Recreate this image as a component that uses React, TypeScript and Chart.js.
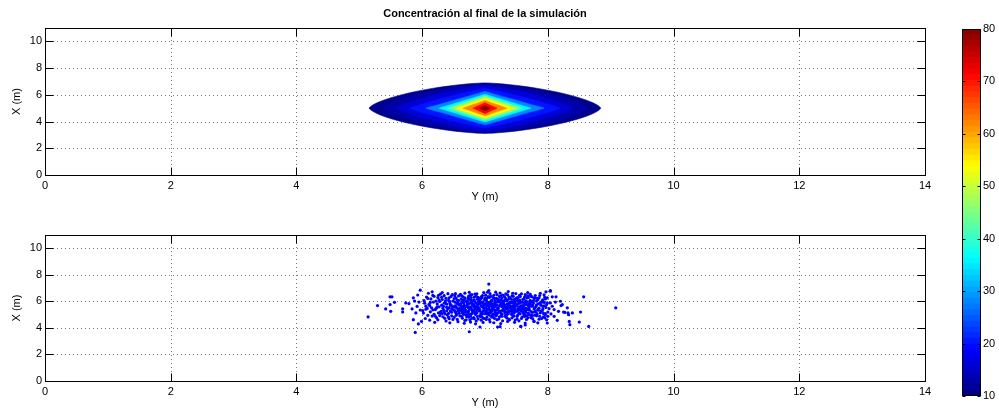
import React, { useEffect, useRef } from "react";
import { Chart, registerables } from "chart.js";

Chart.register(...registerables);

const FONT = '"Liberation Sans", Arial, Helvetica, sans-serif';

const TITLE = "Concentración al final de la simulación";
const X_LABEL = "Y (m)";
const Y_LABEL = "X (m)";

const X_MIN = 0;
const X_MAX = 14;
const Y_MIN = 0;
const Y_MAX = 11;
const xTicks = [0, 2, 4, 6, 8, 10, 12, 14];
const yTicks = [0, 2, 4, 6, 8, 10];

// Filled contours (outer -> inner): level value, half-extent along Y (m) and X (m), edge roundness
const plumeCenter = [7.0, 5.0];
const contourLevels = [11, 13, 16, 20, 28, 36, 45, 54, 62, 71, 79];
const contourHalfWidth = [1.84, 1.62, 1.4, 1.2, 0.94, 0.73, 0.59, 0.48, 0.35, 0.19, 0.08];
const contourHalfHeight = [1.89, 1.8, 1.69, 1.49, 1.25, 1.04, 0.9, 0.75, 0.57, 0.4, 0.2];
const contourRoundness = [1.5, 1.4, 1.25, 1.1, 1, 1, 1, 1, 1, 1, 1];

// Colour bar
const colorbarMin = 10;
const colorbarMax = 80;
const colorbarSteps = 64;
const colorbarTicks = [10, 20, 30, 40, 50, 60, 70, 80];

// Particle positions [Y (m), X (m)]
const particles: [number, number][] = [
  [5.14,4.83],[5.29,5.68],[5.42,5.43],[5.49,6.34],[5.52,6.34],[5.49,5.76],[5.5,5.25],[5.56,5.93],[5.69,5.43],[5.69,5.2],
  [5.74,5.88],[5.79,5.83],[5.84,5.43],[5.86,6.27],[5.86,4.62],[5.89,3.66],[5.9,5.13],[5.94,4.3],[5.97,6.84],[5.99,4.49],
  [5.92,5.62],[5.95,5.95],[5.97,5.35],[5.93,6.48],[5.88,6.02],
  [6.02,5.12],[6.04,5.86],[6.05,4.71],[6.07,6.33],[6.08,5.47],[6.03,6.05],[6.09,4.95],[6.06,5.64],[6.1,6.61],[6.01,5.3],
  [6.11,5.78],[6.12,4.58],[6.14,6.18],[6.13,5.21],[6.15,5.52],[6.16,4.89],[6.17,6.45],[6.18,5.95],[6.19,5.03],[6.12,5.67],[6.16,6.72],[6.2,4.42],
  [6.21,5.38],[6.22,6.02],[6.23,4.76],[6.24,5.81],[6.25,6.29],[6.26,5.13],[6.27,5.59],[6.28,4.93],[6.29,6.54],[6.22,5.46],[6.25,4.61],[6.28,5.99],[6.3,5.25],
  [6.31,5.71],[6.32,6.14],[6.33,4.84],[6.34,5.34],[6.35,6.43],[6.36,5.06],[6.37,5.92],[6.38,4.52],[6.39,5.55],[6.32,6.66],[6.35,5.18],[6.38,6.23],[6.4,4.98],[6.34,5.63],
  [6.41,5.44],[6.42,6.08],[6.43,4.69],[6.44,5.87],[6.45,5.27],[6.46,6.37],[6.47,4.91],[6.48,5.61],[6.49,6.02],[6.42,5.09],[6.44,4.38],[6.46,5.74],[6.48,6.51],[6.5,5.36],[6.43,5.53],
  [6.51,4.79],[6.52,5.95],[6.53,5.22],[6.54,6.25],[6.55,5.48],[6.56,4.64],[6.57,5.83],[6.58,6.41],[6.59,5.11],[6.52,5.66],[6.54,4.95],[6.56,6.09],[6.58,5.39],[6.6,5.77],[6.53,6.58],[6.57,4.47],
  [6.61,5.31],[6.62,6.17],[6.63,4.88],[6.64,5.59],[6.65,6.34],[6.66,5.02],[6.67,5.71],[6.68,4.56],[6.69,6.05],[6.62,5.45],[6.64,4.73],[6.66,5.89],[6.68,6.62],[6.7,5.19],[6.63,5.97],[6.67,4.35],[6.65,5.38],
  [6.71,5.62],[6.72,4.97],[6.73,6.22],[6.74,5.29],[6.75,5.84],[6.76,4.61],[6.77,6.47],[6.78,5.53],[6.79,5.08],[6.72,6.01],[6.74,4.82],[6.76,5.41],[6.78,6.29],[6.8,5.73],[6.73,5.15],[6.77,4.44],[6.75,6.68],[6.79,5.96],
  [6.81,5.35],[6.82,6.12],[6.83,4.69],[6.84,5.67],[6.85,5.01],[6.86,6.39],[6.87,5.49],[6.88,4.86],[6.89,5.88],[6.82,5.24],[6.84,6.55],[6.86,4.52],[6.88,5.76],[6.9,6.07],[6.83,5.57],[6.87,5.13],[6.85,4.31],[6.89,6.31],
  [6.91,5.46],[6.92,4.93],[6.93,6.19],[6.94,5.69],[6.95,5.18],[6.96,6.44],[6.97,4.74],[6.98,5.82],[6.99,5.33],[6.92,6.03],[6.94,4.58],[6.96,5.58],[6.98,6.66],[7.0,5.07],[6.93,5.91],[6.97,4.41],[6.95,6.27],[6.99,5.72],[6.91,5.27],
  [7.01,5.52],[7.02,6.09],[7.03,4.81],[7.04,5.39],[7.05,6.36],[7.06,4.99],[7.07,5.78],[7.08,6.58],[7.09,5.21],[7.02,4.64],[7.04,5.94],[7.06,6.81],[7.08,4.46],[7.1,5.63],[7.03,6.23],[7.07,5.11],[7.05,5.71],[7.09,4.89],[7.01,6.47],[7.06,5.45],
  [7.11,5.83],[7.12,5.04],[7.13,6.28],[7.14,5.56],[7.15,4.72],[7.16,6.02],[7.17,5.31],[7.18,4.92],[7.19,6.51],[7.12,5.69],[7.14,4.39],[7.16,5.17],[7.18,5.97],[7.2,6.17],[7.13,5.42],[7.17,6.69],[7.15,5.85],[7.19,4.62],[7.11,5.26],
  [7.21,5.49],[7.22,6.13],[7.23,4.84],[7.24,5.74],[7.25,6.42],[7.26,5.09],[7.27,5.61],[7.28,4.54],[7.29,6.04],[7.22,5.28],[7.24,6.63],[7.26,4.96],[7.28,5.86],[7.3,5.37],[7.23,5.99],[7.27,6.26],[7.25,4.33],[7.29,5.55],
  [7.31,5.72],[7.32,4.88],[7.33,6.21],[7.34,5.43],[7.35,5.01],[7.36,6.49],[7.37,5.66],[7.38,4.67],[7.39,5.91],[7.32,6.07],[7.34,5.19],[7.36,4.49],[7.38,6.33],[7.4,5.52],[7.33,4.99],[7.37,6.74],[7.35,5.81],[7.39,5.24],
  [7.41,5.34],[7.42,6.15],[7.43,4.76],[7.44,5.63],[7.45,6.38],[7.46,5.14],[7.47,5.89],[7.48,4.59],[7.49,6.01],[7.42,5.47],[7.44,6.61],[7.46,4.91],[7.48,5.71],[7.5,6.24],[7.43,5.23],[7.47,4.42],[7.45,5.56],
  [7.51,5.78],[7.52,4.97],[7.53,6.11],[7.54,5.36],[7.55,6.46],[7.56,5.06],[7.57,5.67],[7.58,4.71],[7.59,5.93],[7.52,6.29],[7.54,4.53],[7.56,5.49],[7.58,6.57],[7.6,5.21],[7.53,5.84],[7.57,4.11],[7.55,5.41],
  [7.61,5.58],[7.62,6.19],[7.63,4.86],[7.64,5.29],[7.65,6.03],[7.66,4.64],[7.67,5.74],[7.68,6.41],[7.69,5.12],[7.62,5.91],[7.64,4.37],[7.66,5.46],[7.68,6.66],[7.7,5.83],[7.63,5.02],[7.67,6.27],
  [7.71,5.33],[7.72,6.08],[7.73,4.78],[7.74,5.64],[7.75,6.34],[7.76,5.18],[7.77,5.87],[7.78,4.49],[7.79,5.52],[7.72,6.52],[7.74,4.99],[7.76,5.72],[7.78,6.17],[7.8,5.26],[7.73,5.96],
  [7.81,5.61],[7.82,4.91],[7.83,6.23],[7.84,5.39],[7.85,5.82],[7.86,4.66],[7.87,6.44],[7.88,5.14],[7.89,5.71],[7.82,6.02],[7.84,4.38],[7.86,5.49],[7.88,6.61],[7.9,5.94],
  [7.91,5.28],[7.92,6.12],[7.93,4.83],[7.94,5.67],[7.95,6.31],[7.96,5.07],[7.97,5.54],[7.98,4.61],[7.99,5.89],[7.92,5.41],[7.94,6.49],[7.96,4.97],[7.98,5.77],[8.0,5.19],
  [6.505,5.58],[6.535,5.14],[6.565,5.92],[6.595,5.47],[6.615,5.81],[6.635,5.26],[6.655,6.12],[6.675,5.52],[6.695,4.98],[6.715,5.87],
  [6.735,5.51],[6.755,5.04],[6.775,6.09],[6.795,5.37],[6.815,5.79],[6.835,5.11],[6.855,5.63],[6.875,6.16],[6.895,5.43],[6.915,5.98],
  [6.935,5.06],[6.955,5.87],[6.975,5.29],[6.995,6.12],[7.015,5.19],[7.035,5.68],[7.055,5.91],[7.075,5.36],[7.095,6.03],[7.115,5.51],
  [7.135,4.98],[7.155,5.74],[7.175,5.62],[7.195,5.39],[7.215,5.96],[7.235,5.18],[7.255,5.88],[7.275,5.32],[7.295,5.79],[7.315,5.15],
  [7.335,5.58],[7.355,6.06],[7.375,5.29],[7.395,5.68],[7.415,5.92],[7.435,5.12],[7.455,5.82],[7.475,5.38],[7.495,5.66],[7.515,5.26],
  [7.535,5.59],[7.555,5.96],[7.575,5.31],[7.595,5.69],[7.615,5.09],[7.635,5.51],[7.655,5.91],[7.675,5.41],[7.695,5.62],[7.715,5.81],
  [6.51,6.21],[6.55,5.03],[6.59,5.71],[6.63,6.41],[6.67,5.21],[6.71,4.84],[6.75,6.16],[6.79,4.72],[6.83,6.32],[6.87,5.34],
  [6.91,6.21],[6.95,4.85],[6.99,5.52],[7.03,5.05],[7.07,6.29],[7.11,4.82],[7.15,6.21],[7.19,5.07],[7.23,6.37],[7.27,5.02],
  [7.31,6.36],[7.35,4.74],[7.39,6.19],[7.43,5.94],[7.47,6.16],[7.51,4.87],[7.55,6.09],[7.59,5.38],[7.63,6.33],[7.67,4.93],
  [7.71,5.99],[7.75,4.89],[7.79,6.27],[6.47,5.18],[6.43,6.27],[6.39,5.29],[6.35,5.86],[6.31,5.07],[6.27,6.12],[6.23,5.52],
  [6.06,5.41],[6.09,6.22],[6.13,5.92],[6.17,5.36],[6.19,6.38],[6.21,4.88],[6.24,5.58],[6.26,6.46],[6.29,5.17],[6.31,6.31],
  [6.33,5.49],[6.36,4.72],[6.37,6.04],[6.39,5.79],[6.41,6.58],[6.42,4.81],[6.44,5.99],[6.45,5.72],[6.47,5.42],[6.49,4.64],
  [6.51,5.33],[6.52,6.42],[6.54,5.61],[6.55,5.84],[6.57,5.27],[6.58,6.06],[6.6,4.91],[6.61,6.53],[6.62,5.68],[6.64,5.13],
  [6.65,5.93],[6.66,5.54],[6.68,6.27],[6.69,5.36],[6.7,4.61],[6.71,5.98],[6.72,5.73],[6.73,5.22],[6.74,6.39],[6.76,5.58],
  [6.77,4.91],[6.78,5.89],[6.79,6.51],[6.8,5.24],[6.81,5.69],[6.82,4.78],[6.83,6.04],[6.84,5.42],[6.85,5.91],[6.86,5.19],
  [6.87,6.57],[6.88,5.62],[6.89,4.67],[6.9,5.53],[6.91,5.81],[6.92,5.34],[6.93,4.84],[6.94,6.34],[6.95,5.62],[6.96,5.06],
  [6.97,5.97],[6.98,5.44],[6.99,4.71],[7.0,6.24],[7.01,5.77],[7.02,5.28],[7.03,5.94],[7.04,6.69],[7.05,5.16],[7.06,5.61],
  [7.07,4.63],[7.08,5.88],[7.09,6.38],[7.1,5.31],[7.11,6.07],[7.12,5.47],[7.13,4.91],[7.14,6.46],[7.15,5.38],[7.16,5.79],
  [7.17,5.03],[7.18,6.22],[7.19,5.74],[7.2,5.12],[7.21,6.01],[7.22,4.68],[7.23,5.63],[7.24,5.27],[7.25,6.11],[7.26,5.71],
  [7.27,4.87],[7.28,6.48],[7.29,5.42],[7.3,5.97],[7.31,5.29],[7.32,5.61],[7.33,6.56],[7.34,4.81],[7.35,6.12],[7.36,5.47],
  [7.37,5.09],[7.38,5.84],[7.39,4.61],[7.4,6.27],[7.41,5.67],[7.42,5.02],[7.43,6.42],[7.44,5.33],[7.45,4.89],[7.46,6.04],
  [7.47,5.52],[7.48,5.21],[7.49,6.59],[7.5,5.74],[7.51,4.68],[7.52,5.44],[7.53,6.03],[7.54,5.12],[7.55,5.87],[7.56,6.36],
  [7.57,5.28],[7.58,5.61],[7.59,4.82],[7.6,6.14],[7.61,5.39],[7.62,4.97],[7.63,5.76],[7.64,6.51],[7.65,5.18],[7.66,5.99],
  [7.67,5.37],[7.68,4.76],[7.69,6.29],[7.7,5.47],[7.71,4.98],[7.72,5.79],[7.73,6.38],[7.74,5.21],[7.75,5.66],[7.76,4.68],
  [7.77,6.02],[7.78,5.43],[7.79,4.96],[7.8,6.44],[7.81,5.18],[7.82,5.73],[7.83,5.04],[7.84,6.12],[7.85,5.33],[7.86,6.27],
  [7.87,4.88],[7.88,5.91],[7.89,5.27],[7.9,4.71],[7.91,6.03],[7.92,5.62],[7.93,5.09],[7.94,5.92],[7.95,4.76],[7.96,6.18],
  [7.97,6.72],[8.04,6.82],[7.99,6.27],[8.07,6.34],[8.13,6.34],[8.04,5.88],[8.2,6.01],[8.23,5.76],[8.1,5.38],[8.17,5.25],
  [8.27,5.17],[8.31,5.51],[7.99,4.37],[8.15,4.57],[8.33,5.0],[8.21,5.68],[8.07,5.63],[8.25,5.2],[8.32,5.13],[8.39,5.13],
  [8.52,5.2],[8.57,6.34],[8.34,4.49],[8.35,4.24],[8.5,4.44],[8.65,4.11],[9.08,5.51],[8.0,4.87],[8.1,4.87],[8.04,6.77],
  [8.12,5.95],[8.05,5.05],[8.02,5.45],
  [6.75,3.71],[7.2,4.07],[7.06,7.3],[7.57,4.11],[7.78,4.49],[6.92,4.07],[7.24,4.09],[7.64,4.22]
];

function jet(v: number): string {
  const t = (v - colorbarMin) / (colorbarMax - colorbarMin);
  const c = (x: number) => Math.max(0, Math.min(1, x));
  const r = c(1.5 - Math.abs(4 * t - 3));
  const g = c(1.5 - Math.abs(4 * t - 2));
  const b = c(1.5 - Math.abs(4 * t - 1));
  return `rgb(${Math.round(r * 255)},${Math.round(g * 255)},${Math.round(b * 255)})`;
}

function contourPolygon(i: number) {
  const pts: { x: number; y: number }[] = [];
  const n = 96;
  const p = contourRoundness[i];
  for (let k = 0; k <= n; k++) {
    const a = (k / n) * Math.PI * 2;
    const c = Math.cos(a);
    const s = Math.sin(a);
    pts.push({
      x: plumeCenter[0] + contourHalfWidth[i] * Math.sign(c) * Math.pow(Math.abs(c), 2 / p),
      y: plumeCenter[1] + contourHalfHeight[i] * Math.sign(s) * Math.pow(Math.abs(s), 2 / p),
    });
  }
  return pts;
}

const matlabAxes = {
  id: "matlabAxes",
  beforeDatasetsDraw(chart: any) {
    const { ctx, chartArea: a, scales } = chart;
    const x = scales.x;
    const y = scales.y;
    ctx.save();
    ctx.strokeStyle = "#7a7a7a";
    ctx.lineWidth = 1;
    ctx.setLineDash([1, 3]);
    ctx.beginPath();
    for (const v of xTicks) {
      if (v <= X_MIN || v >= X_MAX) continue;
      const px = Math.round(x.getPixelForValue(v)) + 0.5;
      ctx.moveTo(px, a.top);
      ctx.lineTo(px, a.bottom);
    }
    for (const v of yTicks) {
      if (v <= Y_MIN || v >= Y_MAX) continue;
      const py = Math.round(y.getPixelForValue(v)) + 0.5;
      ctx.moveTo(a.left, py);
      ctx.lineTo(a.right, py);
    }
    ctx.stroke();
    ctx.restore();
  },
  afterDatasetsDraw(chart: any) {
    const { ctx, chartArea: a, scales } = chart;
    const x = scales.x;
    const y = scales.y;
    const L = Math.round(a.left) + 0.5;
    const R = Math.round(a.right) + 0.5;
    const T = Math.round(a.top) + 0.5;
    const B = Math.round(a.bottom) + 0.5;
    const tl = 8;
    ctx.save();
    ctx.strokeStyle = "#000";
    ctx.lineWidth = 1;
    ctx.beginPath();
    for (const v of xTicks) {
      const px = Math.round(x.getPixelForValue(v)) + 0.5;
      ctx.moveTo(px, B);
      ctx.lineTo(px, B - tl);
      ctx.moveTo(px, T);
      ctx.lineTo(px, T + tl);
    }
    for (const v of yTicks) {
      const py = Math.round(y.getPixelForValue(v)) + 0.5;
      ctx.moveTo(L, py);
      ctx.lineTo(L + tl, py);
      ctx.moveTo(R, py);
      ctx.lineTo(R - tl, py);
    }
    ctx.stroke();
    ctx.strokeRect(L, T, R - L, B - T);
    ctx.restore();
  },
};

const figureTitle = {
  id: "figureTitle",
  afterDraw(chart: any) {
    const { ctx, chartArea: a } = chart;
    ctx.save();
    ctx.font = `bold 11px ${FONT}`;
    ctx.fillStyle = "#000";
    ctx.textAlign = "center";
    ctx.textBaseline = "middle";
    ctx.fillText(TITLE, (a.left + a.right) / 2, 14);
    ctx.restore();
  },
};

const colorbarFrame = {
  id: "colorbarFrame",
  afterDatasetsDraw(chart: any) {
    const { ctx, chartArea: a, scales } = chart;
    const y = scales.y;
    const L = Math.round(a.left) + 0.5;
    const R = Math.round(a.right) - 0.5;
    const T = Math.round(a.top) + 0.5;
    const B = Math.round(a.bottom) - 0.5;
    ctx.save();
    ctx.strokeStyle = "#000";
    ctx.lineWidth = 1;
    ctx.beginPath();
    for (const v of colorbarTicks) {
      const py = Math.round(y.getPixelForValue(v)) + 0.5;
      ctx.moveTo(L, py);
      ctx.lineTo(L + 3, py);
      ctx.moveTo(R, py);
      ctx.lineTo(R - 3, py);
    }
    ctx.stroke();
    ctx.strokeRect(L, T, R - L, B - T);
    ctx.restore();
  },
};

function plotScales() {
  return {
    x: {
      type: "linear",
      min: X_MIN,
      max: X_MAX,
      grid: { display: false, drawTicks: false },
      border: { display: false },
      afterBuildTicks: (s: any) => {
        s.ticks = xTicks.map((v) => ({ value: v }));
      },
      afterFit: (s: any) => {
        s.height = 30;
      },
      ticks: { color: "#000", font: { family: FONT, size: 11 }, padding: 4, maxRotation: 0, autoSkip: false },
      title: { display: true, text: X_LABEL, color: "#000", font: { family: FONT, size: 11 }, padding: { top: 0, bottom: 1 } },
    },
    y: {
      type: "linear",
      min: Y_MIN,
      max: Y_MAX,
      grid: { display: false, drawTicks: false },
      border: { display: false },
      afterBuildTicks: (s: any) => {
        s.ticks = yTicks.map((v) => ({ value: v }));
      },
      afterFit: (s: any) => {
        s.width = 45;
      },
      ticks: { color: "#000", font: { family: FONT, size: 11 }, padding: 3, autoSkip: false },
      title: { display: true, text: Y_LABEL, color: "#000", font: { family: FONT, size: 11 }, padding: { top: 10, bottom: 0 } },
    },
  };
}

function topConfig(): any {
  const datasets = contourLevels.map((lvl, i) => ({
    data: contourPolygon(i),
    showLine: true,
    fill: "shape",
    backgroundColor: jet(lvl),
    borderColor: jet(lvl),
    borderWidth: 0.6,
    pointRadius: 0,
    pointHoverRadius: 0,
    tension: 0,
    order: -i,
  }));
  return {
    type: "scatter",
    data: { datasets },
    options: {
      responsive: false,
      animation: false,
      events: [],
      layout: { padding: { top: 28, right: 15, left: 0, bottom: 0 } },
      plugins: { legend: { display: false }, tooltip: { enabled: false } },
      scales: plotScales(),
    },
    plugins: [matlabAxes, figureTitle],
  };
}

function bottomConfig(): any {
  return {
    type: "scatter",
    data: {
      datasets: [
        {
          data: particles.map(([px, py]) => ({ x: px, y: py })),
          pointRadius: 1.6,
          pointBackgroundColor: "#0000ff",
          pointBorderWidth: 0,
          pointBorderColor: "#0000ff",
          showLine: false,
        },
      ],
    },
    options: {
      responsive: false,
      animation: false,
      events: [],
      layout: { padding: { top: 28, right: 15, left: 0, bottom: 0 } },
      plugins: { legend: { display: false }, tooltip: { enabled: false } },
      scales: plotScales(),
    },
    plugins: [matlabAxes],
  };
}

function colorbarConfig(): any {
  const step = (colorbarMax - colorbarMin) / colorbarSteps;
  const datasets = Array.from({ length: colorbarSteps }, (_, i) => {
    const lo = colorbarMin + i * step;
    return {
      data: [[lo, lo + step]],
      backgroundColor: jet(lo + step / 2),
      borderWidth: 0,
      borderSkipped: false,
      grouped: false,
      barPercentage: 1,
      categoryPercentage: 1,
      inflateAmount: 0.6,
    };
  });
  return {
    type: "bar",
    data: { labels: [""], datasets },
    options: {
      responsive: false,
      animation: false,
      events: [],
      layout: { padding: { top: 29, right: 0, left: 22, bottom: 19 } },
      plugins: { legend: { display: false }, tooltip: { enabled: false } },
      scales: {
        x: { display: false },
        y: {
          position: "right",
          min: colorbarMin,
          max: colorbarMax,
          grid: { display: false, drawTicks: false },
          border: { display: false },
          afterBuildTicks: (s: any) => {
            s.ticks = colorbarTicks.map((v) => ({ value: v }));
          },
          afterFit: (s: any) => {
            s.width = 18;
          },
          ticks: { color: "#000", font: { family: FONT, size: 11 }, padding: 2 },
        },
      },
    },
    plugins: [colorbarFrame],
  };
}

export default function App() {
  const topRef = useRef<HTMLCanvasElement>(null);
  const botRef = useRef<HTMLCanvasElement>(null);
  const cbRef = useRef<HTMLCanvasElement>(null);

  useEffect(() => {
    const charts = [
      new Chart(topRef.current as HTMLCanvasElement, topConfig()),
      new Chart(botRef.current as HTMLCanvasElement, bottomConfig()),
      new Chart(cbRef.current as HTMLCanvasElement, colorbarConfig()),
    ];
    return () => charts.forEach((c) => c.destroy());
  }, []);

  return (
    <div style={{ position: "absolute", left: 0, top: 0, width: 999, height: 415, background: "#fff", overflow: "hidden" }}>
      <canvas ref={topRef} width={940} height={205} style={{ position: "absolute", left: 0, top: 0, width: 940, height: 205 }} />
      <canvas ref={botRef} width={940} height={204} style={{ position: "absolute", left: 0, top: 207, width: 940, height: 204 }} />
      <canvas ref={cbRef} width={59} height={415} style={{ position: "absolute", left: 940, top: 0, width: 59, height: 415 }} />
    </div>
  );
}
